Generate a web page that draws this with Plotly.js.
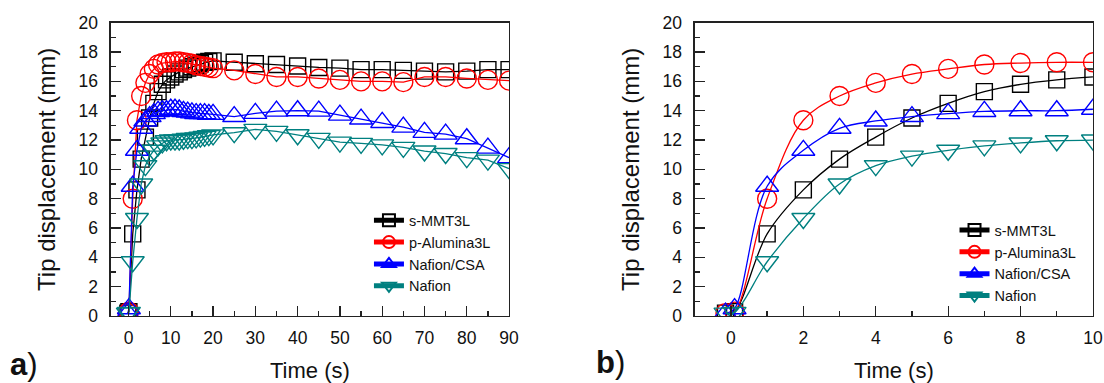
<!DOCTYPE html>
<html>
<head>
<meta charset="utf-8">
<script src="https://cdn.plot.ly/plotly-3.0.1.min.js"></script>
<style>html,body{margin:0;padding:0;background:#fff;}#chart{width:1104px;height:383px;}</style>
</head>
<body>
<div id="chart"></div>
<script>
// ---- Data ----
const seriesNames = ["s-MMT3L", "p-Alumina3L", "Nafion/CSA", "Nafion"];

// Panel a: time axis (s)
const timeA = [-0.15, 0.1, 1, 2, 3, 4, 5, 6, 7, 8, 9, 10,
  11, 12, 13, 14, 15, 16, 17, 18, 19, 20,
  25, 30, 35, 40, 45, 50, 55, 60, 65, 70, 75, 80, 85, 90];
const sMMT_A = [0.2, 0.3, 5.6, 8.6, 10.7, 12.2, 13.5, 14.5, 15.3, 15.8, 16.1, 16.3,
  16.5, 16.65, 16.8, 16.9, 17.0, 17.1, 17.2, 17.3, 17.35, 17.4,
  17.3, 17.2, 17.15, 17.05, 16.95, 16.9, 16.8, 16.8, 16.75, 16.7, 16.65, 16.7, 16.8, 16.8];
const pAlu_A = [0.2, 0.3, 8.0, 13.35, 15.0, 15.9, 16.5, 16.85, 17.15, 17.25, 17.3, 17.3,
  17.35, 17.35, 17.3, 17.25, 17.2, 17.1, 17.05, 17.0, 16.95, 16.9,
  16.75, 16.5, 16.3, 16.3, 16.2, 16.1, 16.0, 16.0, 15.95, 16.3, 16.3, 16.2, 16.1, 16.05];
const csa_A = [0.2, 0.5, 8.85, 11.3, 12.8, 13.3, 13.6, 13.8, 13.95, 14.0, 14.0, 14.1,
  14.1, 14.05, 13.95, 13.9, 13.85, 13.8, 13.8, 13.8, 13.75, 13.75,
  13.6, 13.82, 13.97, 14.0, 13.97, 13.7, 13.43, 13.2, 12.88, 12.52, 12.4, 12.09, 11.45, 10.8];
const naf_A = [0.2, 0.25, 3.7, 6.65, 9.0, 10.25, 10.9, 11.3, 11.6, 11.8, 11.95, 12.0,
  12.0, 12.0, 12.05, 12.1, 12.1, 12.15, 12.2, 12.25, 12.3, 12.35,
  12.5, 12.73, 12.59, 12.36, 12.11, 11.86, 11.77, 11.67, 11.5, 11.25, 11.08, 10.8, 10.63, 10.05];

// Panel b: first 10 s
const timeB = [-0.15, 0.1, 1, 2, 3, 4, 5, 6, 7, 8, 9, 10];
const sMMT_B = [0.2, 0.3, 5.6, 8.6, 10.7, 12.2, 13.5, 14.5, 15.3, 15.8, 16.1, 16.3];
const pAlu_B = [0.2, 0.3, 8.0, 13.35, 15.0, 15.9, 16.5, 16.85, 17.15, 17.25, 17.3, 17.3];
const csa_B = [0.2, 0.5, 8.85, 11.3, 12.8, 13.3, 13.6, 13.8, 13.95, 14.0, 14.0, 14.1];
const naf_B = [0.2, 0.25, 3.7, 6.65, 9.0, 10.25, 10.9, 11.3, 11.6, 11.8, 11.95, 12.0];

const yTickVals = [0, 2, 4, 6, 8, 10, 12, 14, 16, 18, 20];

// ---- Styles ----
const colors = ["#000000", "#ff0000", "#0000ff", "#008080"];
const symbols = ["square-open", "circle-open", "triangle-up-open", "triangle-down-open"];
const sizes = [16, 19, 20, 20];
const FONT = "Liberation Sans, Arial, Helvetica, sans-serif";

const dataA = [sMMT_A, pAlu_A, csa_A, naf_A];
const dataB = [sMMT_B, pAlu_B, csa_B, naf_B];

const traces = [];
dataA.forEach((ys, i) => {
  traces.push({
    x: timeA, y: ys, xaxis: "x", yaxis: "y", name: seriesNames[i], legend: "legend",
    type: "scatter", mode: "lines+markers",
    line: {color: colors[i], width: 1.3, shape: "linear"},
    marker: {symbol: symbols[i], size: sizes[i], color: colors[i], line: {color: colors[i], width: 1.4}},
    cliponaxis: true
  });
});
dataB.forEach((ys, i) => {
  traces.push({
    x: timeB, y: ys, xaxis: "x2", yaxis: "y2", name: seriesNames[i], legend: "legend2",
    type: "scatter", mode: "lines+markers",
    line: {color: colors[i], width: 1.3, shape: "spline"},
    marker: {symbol: symbols[i], size: sizes[i], color: colors[i], line: {color: colors[i], width: 1.4}},
    cliponaxis: true
  });
});

const axisCommon = {
  showline: true, mirror: true, linecolor: "#222", linewidth: 1.3,
  ticks: "inside", ticklen: 10, tickwidth: 1.3, tickcolor: "#222",
  showgrid: false, zeroline: false, fixedrange: true,
  tickfont: {family: FONT, size: 17.5, color: "#111"}
};
const titleFont = {family: FONT, size: 22, color: "#111"};
const yTitleFont = {family: FONT, size: 24, color: "#111"};

const layout = {
  width: 1104, height: 383,
  margin: {l: 0, r: 0, t: 0, b: 0},
  paper_bgcolor: "#ffffff", plot_bgcolor: "#ffffff",
  font: {family: FONT, color: "#111"},
  showlegend: true,
  xaxis: Object.assign({}, axisCommon, {
    domain: [0.1003, 0.4611], anchor: "y", range: [-4.2, 90],
    tick0: 0, dtick: 10, ticklabelstandoff: 6,
    minor: {dtick: 5, ticks: "inside", ticklen: 5, tickwidth: 1.3, tickcolor: "#222"},
    title: {text: "Time (s)", font: titleFont, standoff: 16}
  }),
  yaxis: Object.assign({}, axisCommon, {
    domain: [0.1749, 0.9407], anchor: "x", range: [0, 20],
    tickvals: yTickVals, ticklabelstandoff: 8,
    minor: {dtick: 1, ticks: "inside", ticklen: 5, tickwidth: 1.3, tickcolor: "#222"},
    title: {text: "Tip displacement (mm)", font: yTitleFont, standoff: 16}
  }),
  xaxis2: Object.assign({}, axisCommon, {
    domain: [0.6293, 0.9900], anchor: "y2", range: [-1, 10],
    tick0: 0, dtick: 2, ticklabelstandoff: 6,
    minor: {dtick: 1, ticks: "inside", ticklen: 5, tickwidth: 1.3, tickcolor: "#222"},
    title: {text: "Time (s)", font: titleFont, standoff: 16}
  }),
  yaxis2: Object.assign({}, axisCommon, {
    domain: [0.1749, 0.9407], anchor: "x2", range: [0, 20],
    tickvals: yTickVals, ticklabelstandoff: 8,
    minor: {dtick: 1, ticks: "inside", ticklen: 5, tickwidth: 1.3, tickcolor: "#222"},
    title: {text: "Tip displacement (mm)", font: yTitleFont, standoff: 16}
  }),
  legend: {
    x: 0.3342, y: 0.4665, xanchor: "left", yanchor: "top",
    bgcolor: "rgba(0,0,0,0)", borderwidth: 0,
    font: {family: FONT, size: 14.5, color: "#111"}, itemsizing: "constant", tracegroupgap: 0
  },
  legend2: {
    x: 0.8646, y: 0.4410, xanchor: "left", yanchor: "top",
    bgcolor: "rgba(0,0,0,0)", borderwidth: 0,
    font: {family: FONT, size: 14.5, color: "#111"}, itemsizing: "constant", tracegroupgap: 0
  },
  annotations: [
    {xref: "paper", yref: "paper", x: 8 / 1104, y: 1 - 364 / 383, xanchor: "left", yanchor: "middle",
      text: "<b>a</b>)", showarrow: false, font: {family: FONT, size: 31, color: "#111"}},
    {xref: "paper", yref: "paper", x: 594 / 1104, y: 1 - 362 / 383, xanchor: "left", yanchor: "middle",
      text: "<b>b</b>)", showarrow: false, font: {family: FONT, size: 31, color: "#111"}}
  ]
};

Plotly.newPlot("chart", traces, layout, {displayModeBar: false, staticPlot: true});
</script>
</body>
</html>
